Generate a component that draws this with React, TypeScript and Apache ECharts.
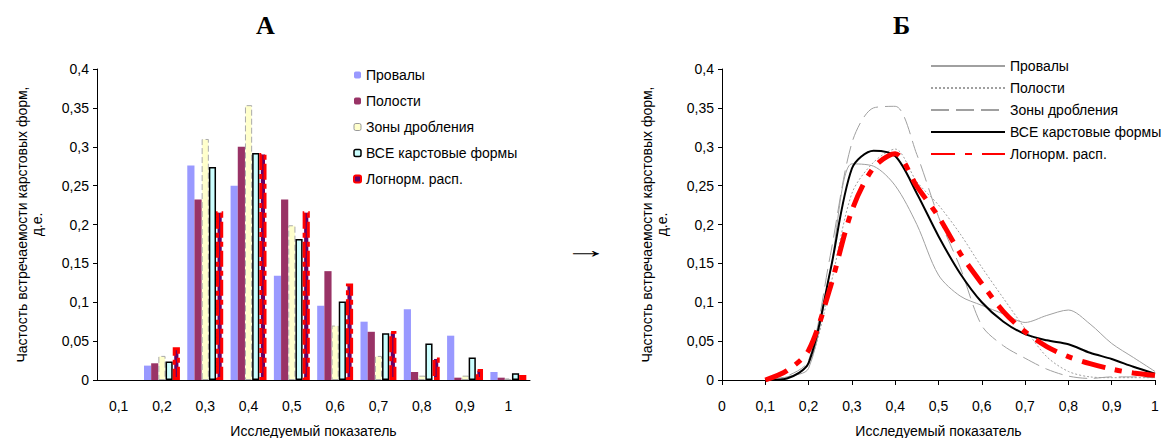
import React, { useEffect, useRef } from 'react';
import * as echarts from 'echarts';

// ---------- Data: histogram (A) ----------
const categories = ['0,1', '0,2', '0,3', '0,4', '0,5', '0,6', '0,7', '0,8', '0,9', '1'];
const barProvaly = [null, 0.0185, 0.276, 0.25, 0.134, 0.0955, 0.075, 0.091, 0.057, 0.0103];
const barPolosti = [null, 0.0215, 0.232, 0.3, 0.232, 0.14, 0.062, 0.0103, 0.003, 0.003];
const barZony = [null, 0.031, 0.31, 0.3535, 0.199, 0.07, 0.031, 0.0056, 0.0056, 0.002];
const barVse = [null, 0.0237, 0.274, 0.292, 0.1815, 0.101, 0.06, 0.047, 0.029, 0.0086];
const barLognorm = [null, 0.042, 0.217, 0.292, 0.217, 0.124, 0.063, 0.029, 0.014, 0.0065];

// ---------- Data: curves (Б) ----------
const curveX = [0.1, 0.15, 0.2, 0.25, 0.3, 0.35, 0.4, 0.45, 0.5, 0.55, 0.6, 0.65, 0.7, 0.75, 0.8, 0.85, 0.9, 0.95, 1.0];
const curveProvaly = [0, 0.004, 0.015, 0.14, 0.278, 0.275, 0.25, 0.2, 0.135, 0.108, 0.096, 0.085, 0.074, 0.083, 0.09, 0.072, 0.047, 0.029, 0.011];
const curvePolosti = [0, 0.003, 0.02, 0.12, 0.24, 0.28, 0.297, 0.255, 0.225, 0.188, 0.145, 0.105, 0.066, 0.03, 0.011, 0.004, 0.003, 0.003, 0.003];
const curveZony = [0, 0.005, 0.025, 0.16, 0.305, 0.35, 0.352, 0.29, 0.21, 0.145, 0.07, 0.044, 0.028, 0.014, 0.005, 0.002, 0.004, 0.004, 0.003];
const curveVse = [0, 0.002, 0.022, 0.14, 0.272, 0.295, 0.288, 0.24, 0.185, 0.137, 0.1, 0.075, 0.059, 0.051, 0.046, 0.035, 0.027, 0.017, 0.008];
const curveLognorm = [0, 0.012, 0.038, 0.119, 0.218, 0.273, 0.291, 0.249, 0.21, 0.163, 0.124, 0.088, 0.062, 0.043, 0.03, 0.021, 0.014, 0.009, 0.006];

const seriesNames = ['Провалы', 'Полости', 'Зоны дробления', 'ВСЕ карстовые формы', 'Логнорм. расп.'];
const yAxisName = 'Частость встречаемости карстовых форм,\nд.е.';
const xAxisName = 'Исследуемый показатель';

const FONT = '"Liberation Sans", Arial, sans-serif';
const comma = (v: number) => String(parseFloat(Number(v).toFixed(3))).replace('.', ',');
const pair = (ys: number[]) => curveX.map((x, i) => [x, ys[i]]);

const txt = { fontFamily: FONT, fontSize: 14, color: '#000' };

const yAxisCommon = {
  type: 'value',
  min: 0,
  max: 0.4,
  interval: 0.05,
  name: yAxisName,
  nameLocation: 'middle',
  nameGap: 53,
  nameTextStyle: { ...txt, lineHeight: 15 },
  axisLine: { show: true, lineStyle: { color: '#000', width: 1 } },
  axisTick: { show: true, length: 4, lineStyle: { color: '#000' } },
  axisLabel: { ...txt, margin: 8, formatter: comma },
  splitLine: { show: false },
};

export default function App() {
  const ref = useRef<HTMLDivElement>(null);
  useEffect(() => {
    const chart = echarts.init(ref.current!, null, { renderer: 'svg' });
    const option: any = {
      animation: false,
      backgroundColor: '#fff',
      textStyle: { fontFamily: FONT },
      grid: [
        { left: 97, right: 634, top: 69, bottom: 58, containLabel: false, outerBoundsMode: 'none' },
        { left: 722, right: 9, top: 69, bottom: 58, containLabel: false, outerBoundsMode: 'none' },
      ],
      xAxis: [
        {
          gridIndex: 0,
          type: 'category',
          data: categories,
          name: xAxisName,
          nameLocation: 'middle',
          nameGap: 44,
          nameTextStyle: txt,
          axisLine: { lineStyle: { color: '#000' } },
          axisTick: { length: 5, lineStyle: { color: '#000' } },
          axisLabel: { ...txt, margin: 19 },
        },
        {
          gridIndex: 1,
          type: 'value',
          min: 0,
          max: 1,
          interval: 0.1,
          name: xAxisName,
          nameLocation: 'middle',
          nameGap: 44,
          nameTextStyle: txt,
          axisLine: { lineStyle: { color: '#000' } },
          axisTick: { length: 5, lineStyle: { color: '#000' } },
          axisLabel: { ...txt, margin: 19, formatter: comma },
          splitLine: { show: false },
        },
      ],
      yAxis: [
        { ...yAxisCommon, gridIndex: 0 },
        { ...yAxisCommon, gridIndex: 1 },
      ],
      legend: [
        {
          left: 348,
          top: 62,
          orient: 'vertical',
          itemWidth: 7,
          itemHeight: 7,
          itemGap: 10,
          textStyle: { ...txt, lineHeight: 16 },
          data: [
            { name: seriesNames[0] },
            { name: seriesNames[1] },
            { name: seriesNames[2], itemStyle: { borderColor: '#999', borderWidth: 1, borderType: 'solid' } },
            { name: seriesNames[3], itemStyle: { borderColor: '#000', borderWidth: 1.5, borderType: 'solid' } },
            { name: seriesNames[4], itemStyle: { color: '#660066', borderColor: '#FF0000', borderWidth: 2, borderType: 'solid' } },
          ],
        },
        {
          left: 925,
          top: 53,
          orient: 'vertical',
          itemWidth: 74,
          itemHeight: 14,
          itemGap: 6,
          itemStyle: { opacity: 0, color: 'transparent', borderWidth: 0 },
          textStyle: { ...txt, lineHeight: 16 },
          formatter: (n: string) => n.trim(),
          data: seriesNames.map((n) => n + ' '),
        },
      ],
      graphic: [
        { type: 'text', left: 256, top: 12, style: { text: 'А', font: 'bold 26px "Liberation Serif", "Times New Roman", serif', fill: '#000' } },
        { type: 'text', left: 893, top: 12, style: { text: 'Б', font: 'bold 26px "Liberation Serif", "Times New Roman", serif', fill: '#000' } },
        {
          type: 'text', x: 586, y: 250, scaleX: 2, scaleY: 1.1,
          style: { text: '→', font: '22px "Liberation Serif", "DejaVu Serif", serif', fill: '#000', align: 'center', verticalAlign: 'middle' },
        },
      ],
      series: [
        {
          name: seriesNames[0], type: 'bar', xAxisIndex: 0, yAxisIndex: 0, data: barProvaly,
          barGap: '0%', barCategoryGap: '17%',
          itemStyle: { color: '#9999FF' },
        },
        {
          name: seriesNames[1], type: 'bar', xAxisIndex: 0, yAxisIndex: 0, data: barPolosti,
          itemStyle: { color: '#993366' },
        },
        {
          name: seriesNames[2], type: 'bar', xAxisIndex: 0, yAxisIndex: 0, data: barZony,
          itemStyle: { color: '#FFFFCC', borderColor: '#AAAAAA', borderWidth: 1, borderType: [6, 3] },
        },
        {
          name: seriesNames[3], type: 'bar', xAxisIndex: 0, yAxisIndex: 0, data: barVse,
          itemStyle: { color: '#CCFFFF', borderColor: '#000', borderWidth: 1.5 },
        },
        {
          name: seriesNames[4], type: 'bar', xAxisIndex: 0, yAxisIndex: 0, data: barLognorm,
          itemStyle: { color: '#660066', borderColor: '#FF0000', borderWidth: 3, borderType: [16, 4, 5, 4] },
        },
        {
          name: seriesNames[0] + ' ', type: 'line', xAxisIndex: 1, yAxisIndex: 1, data: pair(curveProvaly),
          smooth: 0.3, symbol: 'none', color: '#A0A0A0',
          lineStyle: { color: '#A0A0A0', width: 1, type: 'solid' },
        },
        {
          name: seriesNames[1] + ' ', type: 'line', xAxisIndex: 1, yAxisIndex: 1, data: pair(curvePolosti),
          smooth: 0.3, symbol: 'none', color: '#A0A0A0',
          lineStyle: { color: '#A0A0A0', width: 1, type: [2, 2] },
        },
        {
          name: seriesNames[2] + ' ', type: 'line', xAxisIndex: 1, yAxisIndex: 1, data: pair(curveZony),
          smooth: 0.3, symbol: 'none', color: '#A0A0A0',
          lineStyle: { color: '#A0A0A0', width: 1, type: [18, 7] },
        },
        {
          name: seriesNames[3] + ' ', type: 'line', xAxisIndex: 1, yAxisIndex: 1, data: pair(curveVse),
          smooth: 0.3, symbol: 'none', color: '#000',
          lineStyle: { color: '#000', width: 2, type: 'solid' },
        },
        {
          name: seriesNames[4] + ' ', type: 'line', xAxisIndex: 1, yAxisIndex: 1, data: pair(curveLognorm),
          smooth: 0.3, symbol: 'none', color: '#FF0000',
          lineStyle: { color: '#FF0000', width: 5, type: [24, 10, 7, 10] },
        },
      ],
    };
    chart.setOption(option);
    return () => chart.dispose();
  }, []);
  return <div ref={ref} style={{ position: 'absolute', left: 0, top: 0, width: 1164, height: 438 }} />;
}
